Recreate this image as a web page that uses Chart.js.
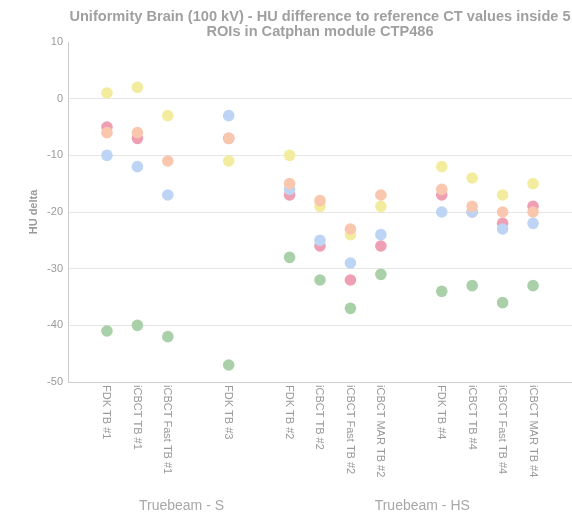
<!DOCTYPE html>
<html>
<head>
<meta charset="utf-8">
<script src="https://cdn.jsdelivr.net/npm/chart.js@4/dist/chart.umd.min.js"></script>
<style>
html,body{margin:0;padding:0;background:#fff;}
#wrap{width:572px;height:513px;}
</style>
</head>
<body>
<div id="wrap"><canvas id="c" width="572" height="513"></canvas></div>
<script>
// Categories ("" = spacer between scanner groups)
const categories = ["FDK TB #1","iCBCT TB #1","iCBCT Fast TB #1","","FDK TB #3","",
  "FDK TB #2","iCBCT TB #2","iCBCT Fast TB #2","iCBCT MAR TB #2","",
  "FDK TB #4","iCBCT TB #4","iCBCT Fast TB #4","iCBCT MAR TB #4"];
const groups = ["Truebeam - S","Truebeam - HS"];
const yTicks = [10,0,-10,-20,-30,-40,-50];

// HU delta per ROI (null for spacers)
const roiYellow = [1,2,-3,null,-11,null,-10,-19,-24,-19,null,-12,-14,-17,-15];
const roiPink   = [-5,-7,null,null,-7,null,-17,-26,-32,-26,null,-17,-20,-22,-19];
const roiPeach  = [-6,-6,-11,null,-7,null,-15,-18,-23,-17,null,-16,-19,-20,-20];
const roiBlue   = [-10,-12,-17,null,-3,null,-16,-25,-29,-24,null,-20,-20,-23,-22];
const roiGreen  = [-41,-40,-42,null,-47,null,-28,-32,-37,-31,null,-34,-33,-36,-33];

function pts(arr){
  const out=[];
  arr.forEach((v,i)=>{ if(v!==null && categories[i]!=="") out.push({x:i,y:v}); });
  return out;
}

const FONT = "'Liberation Sans', Arial, sans-serif";

const xLabelsPlugin = {
  id:'xLabels',
  afterDraw(chart){
    const ctx = chart.ctx, xs = chart.scales.x, area = chart.chartArea;
    ctx.save();
    ctx.font = "11px " + FONT;
    ctx.fillStyle = "#9a9a9a";
    ctx.textAlign = "left";
    ctx.textBaseline = "middle";
    categories.forEach((c,i)=>{
      if(!c) return;
      const x = xs.getPixelForValue(i);
      ctx.save();
      ctx.translate(x - 0.5, area.bottom + 3);
      ctx.rotate(Math.PI/2);
      ctx.fillText(c, 0, 0);
      ctx.restore();
    });
    // group labels
    ctx.font = "14px " + FONT;
    ctx.fillStyle = "#a8a8a8";
    ctx.textAlign = "center";
    ctx.textBaseline = "alphabetic";
    const centers = [2.45, 10.36];
    groups.forEach((g,i)=>{
      ctx.fillText(g, xs.getPixelForValue(centers[i]), 510);
    });
    ctx.restore();
  }
};

new Chart(document.getElementById('c'), {
  type:'scatter',
  data:{
    datasets:[
      {label:'ROI peach', data:pts(roiPeach), backgroundColor:'#f9c6ae'},
      {label:'ROI blue', data:pts(roiBlue), backgroundColor:'#bdd4f4'},
      {label:'ROI pink', data:pts(roiPink), backgroundColor:'#ef9fb3'},
      {label:'ROI yellow', data:pts(roiYellow), backgroundColor:'#f3ec9e'},
      {label:'ROI green', data:pts(roiGreen), backgroundColor:'#a9d0a9'}
    ]
  },
  options:{
    responsive:false,
    animation:false,
    layout:{autoPadding:false,padding:{left:0,right:0,top:0,bottom:0}},
    elements:{point:{radius:5.8,hoverRadius:5.8,borderWidth:0}},
    plugins:{
      legend:{display:false},
      tooltip:{enabled:false},
      title:{
        display:true,
        fullSize:false,
        text:["Uniformity Brain (100 kV) - HU difference to reference CT values inside 5","ROIs in Catphan module CTP486"],
        color:'#a0a0a0',
        font:{family:FONT,size:14.6,weight:'bold',lineHeight:'15px'},
        padding:{top:9,bottom:3}
      }
    },
    scales:{
      x:{
        type:'linear',
        min:-1.28, max:15.28,
        ticks:{display:false},
        grid:{display:false,drawTicks:false},
        border:{color:'#cccccc'},
        afterFit(s){ s.height = 131; }
      },
      y:{
        min:-50, max:10,
        afterBuildTicks(s){ s.ticks = yTicks.map(v=>({value:v})); },
        ticks:{color:'#9a9a9a',font:{family:FONT,size:11},padding:5},
        grid:{drawTicks:false,color:(c)=> (c.tick && c.tick.value===10) ? 'rgba(0,0,0,0)' : '#e6e6e6'},
        border:{color:'#cccccc'},
        title:{display:true,text:'HU delta',color:'#9a9a9a',font:{family:FONT,size:11,weight:'bold'},padding:{top:27}},
        afterFit(s){ s.width = 68; }
      }
    }
  },
  plugins:[xLabelsPlugin]
});
</script>
</body>
</html>
